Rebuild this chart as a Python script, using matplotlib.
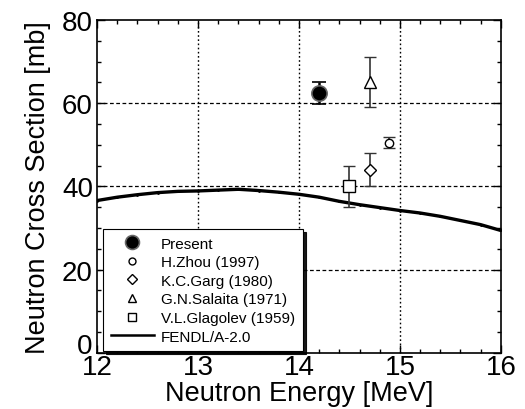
import matplotlib
matplotlib.use("Agg")
import matplotlib.pyplot as plt
from matplotlib.ticker import MultipleLocator, FuncFormatter
from matplotlib.lines import Line2D
from matplotlib.transforms import ScaledTranslation, blended_transform_factory

plt.rcParams['font.family'] = ['Liberation Sans', 'DejaVu Sans']

# FENDL/A-2.0 evaluation
fendl_e = [12.0, 12.2, 12.4, 12.6, 12.8, 13.0, 13.2, 13.4, 13.6, 13.8, 14.0, 14.2,
           14.4, 14.6, 14.8, 15.0, 15.2, 15.4, 15.6, 15.8, 16.0]
fendl_xs = [36.6, 37.4, 38.0, 38.5, 38.8, 38.9, 39.1, 39.3, 39.0, 38.6, 38.1, 37.4,
            36.4, 35.6, 34.9, 34.2, 33.6, 32.8, 31.8, 30.8, 29.4]

# Experimental points: (energy, value, error)
present_e, present_v, present_err = [14.2], [62.5], [2.7]
zhou_e, zhou_v, zhou_err = [14.89], [50.5], [1.3]
garg_e, garg_v, garg_err = [14.70], [44.0], [4.0]
salaita_e, salaita_v, salaita_err = [14.70], [65.0], [6.0]
glagolev_e, glagolev_v, glagolev_err = [14.50], [40.0], [5.0]

legend_labels = ['Present', 'H.Zhou (1997)', 'K.C.Garg (1980)', 'G.N.Salaita (1971)',
                 'V.L.Glagolev (1959)', 'FENDL/A-2.0']

fig = plt.figure(figsize=(5.25, 4.1), dpi=100)
ax = fig.add_axes([0.185, 0.137, 0.769, 0.812])

ax.set_xlim(12, 16)
ax.set_ylim(0, 80)

# grid
for xv in [13, 14, 15]:
    ax.axvline(xv, color='black', lw=1.0, ls=(0, (1.2, 1.8)), zorder=1)
for yv in [20, 40, 60]:
    ax.axhline(yv, color='black', lw=0.9, ls=(0, (3, 2)), zorder=1)

ax.plot(fendl_e, fendl_xs, color='black', lw=2.4, marker='.', ms=2, zorder=3)

ax.errorbar(present_e, present_v, yerr=present_err, fmt='o', ms=11, mfc='black',
            mec='#666666', mew=1.2, ecolor='black', elinewidth=1.8, capsize=5, capthick=1.8,
            zorder=5)
ax.errorbar(zhou_e, zhou_v, yerr=zhou_err, fmt='o', ms=6, mfc='white', mec='black', mew=1.0,
            ecolor='#333333', elinewidth=1.2, capsize=4, zorder=5)
ax.errorbar(garg_e, garg_v, yerr=garg_err, fmt='D', ms=6, mfc='white', mec='black', mew=1.0,
            ecolor='#333333', elinewidth=1.2, capsize=4, zorder=5)
ax.errorbar(salaita_e, salaita_v, yerr=salaita_err, fmt='^', ms=9, mfc='white', mec='black',
            mew=1.0, ecolor='#333333', elinewidth=1.2, capsize=4, zorder=5)
ax.errorbar(glagolev_e, glagolev_v, yerr=glagolev_err, fmt='s', ms=9, mfc='white', mec='black',
            mew=1.0, ecolor='#333333', elinewidth=1.2, capsize=4, zorder=5)

ax.xaxis.set_major_locator(MultipleLocator(1))
ax.xaxis.set_minor_locator(MultipleLocator(0.2))
ax.yaxis.set_major_locator(MultipleLocator(20))
ax.yaxis.set_minor_locator(MultipleLocator(5))
# the "0" label is drawn separately, lifted a little as in the reference
ax.yaxis.set_major_formatter(FuncFormatter(lambda v, p: '' if abs(v) < 1e-9 else f'{v:.0f}'))
ax.tick_params(which='both', direction='in', top=True, right=True, width=1.0)
ax.tick_params(which='major', length=6, labelsize=20)
ax.tick_params(axis='x', which='major', pad=1)
ax.tick_params(axis='y', which='major', pad=3)
ax.tick_params(which='minor', length=3)
for s in ax.spines.values():
    s.set_linewidth(1.2)

zero_tf = blended_transform_factory(ax.transAxes, ax.transData) + \
    ScaledTranslation(-0.05, 0.07, fig.dpi_scale_trans)
ax.text(0, 0, '0', transform=zero_tf, ha='right', va='center', fontsize=20, clip_on=False)

ax.set_xlabel('Neutron Energy [MeV]', fontsize=19.5, labelpad=0)
ax.set_ylabel('Neutron Cross Section [mb]', fontsize=19.5, labelpad=8)

handles = [
    Line2D([], [], ls='none', marker='o', ms=10, mfc='black', mec='#666666', mew=1.2),
    Line2D([], [], ls='none', marker='o', ms=5, mfc='white', mec='black', mew=1.0),
    Line2D([], [], ls='none', marker='D', ms=5, mfc='white', mec='black', mew=1.0),
    Line2D([], [], ls='none', marker='^', ms=6, mfc='white', mec='black', mew=1.0),
    Line2D([], [], ls='none', marker='s', ms=6, mfc='white', mec='black', mew=1.0),
    Line2D([], [], color='black', lw=1.8),
]
leg = ax.legend(handles, legend_labels, loc='lower left',
                bbox_to_anchor=(0.015, 0.005), fontsize=11, frameon=True, fancybox=False,
                shadow={'color': 'black', 'alpha': 0.9}, edgecolor='black', framealpha=1,
                handlelength=2.8, labelspacing=0.3, borderpad=0.5, handletextpad=0.5,
                borderaxespad=0.0)
leg.get_frame().set_linewidth(0.8)
leg.set_zorder(10)

fig.savefig('out.png', dpi=100)
